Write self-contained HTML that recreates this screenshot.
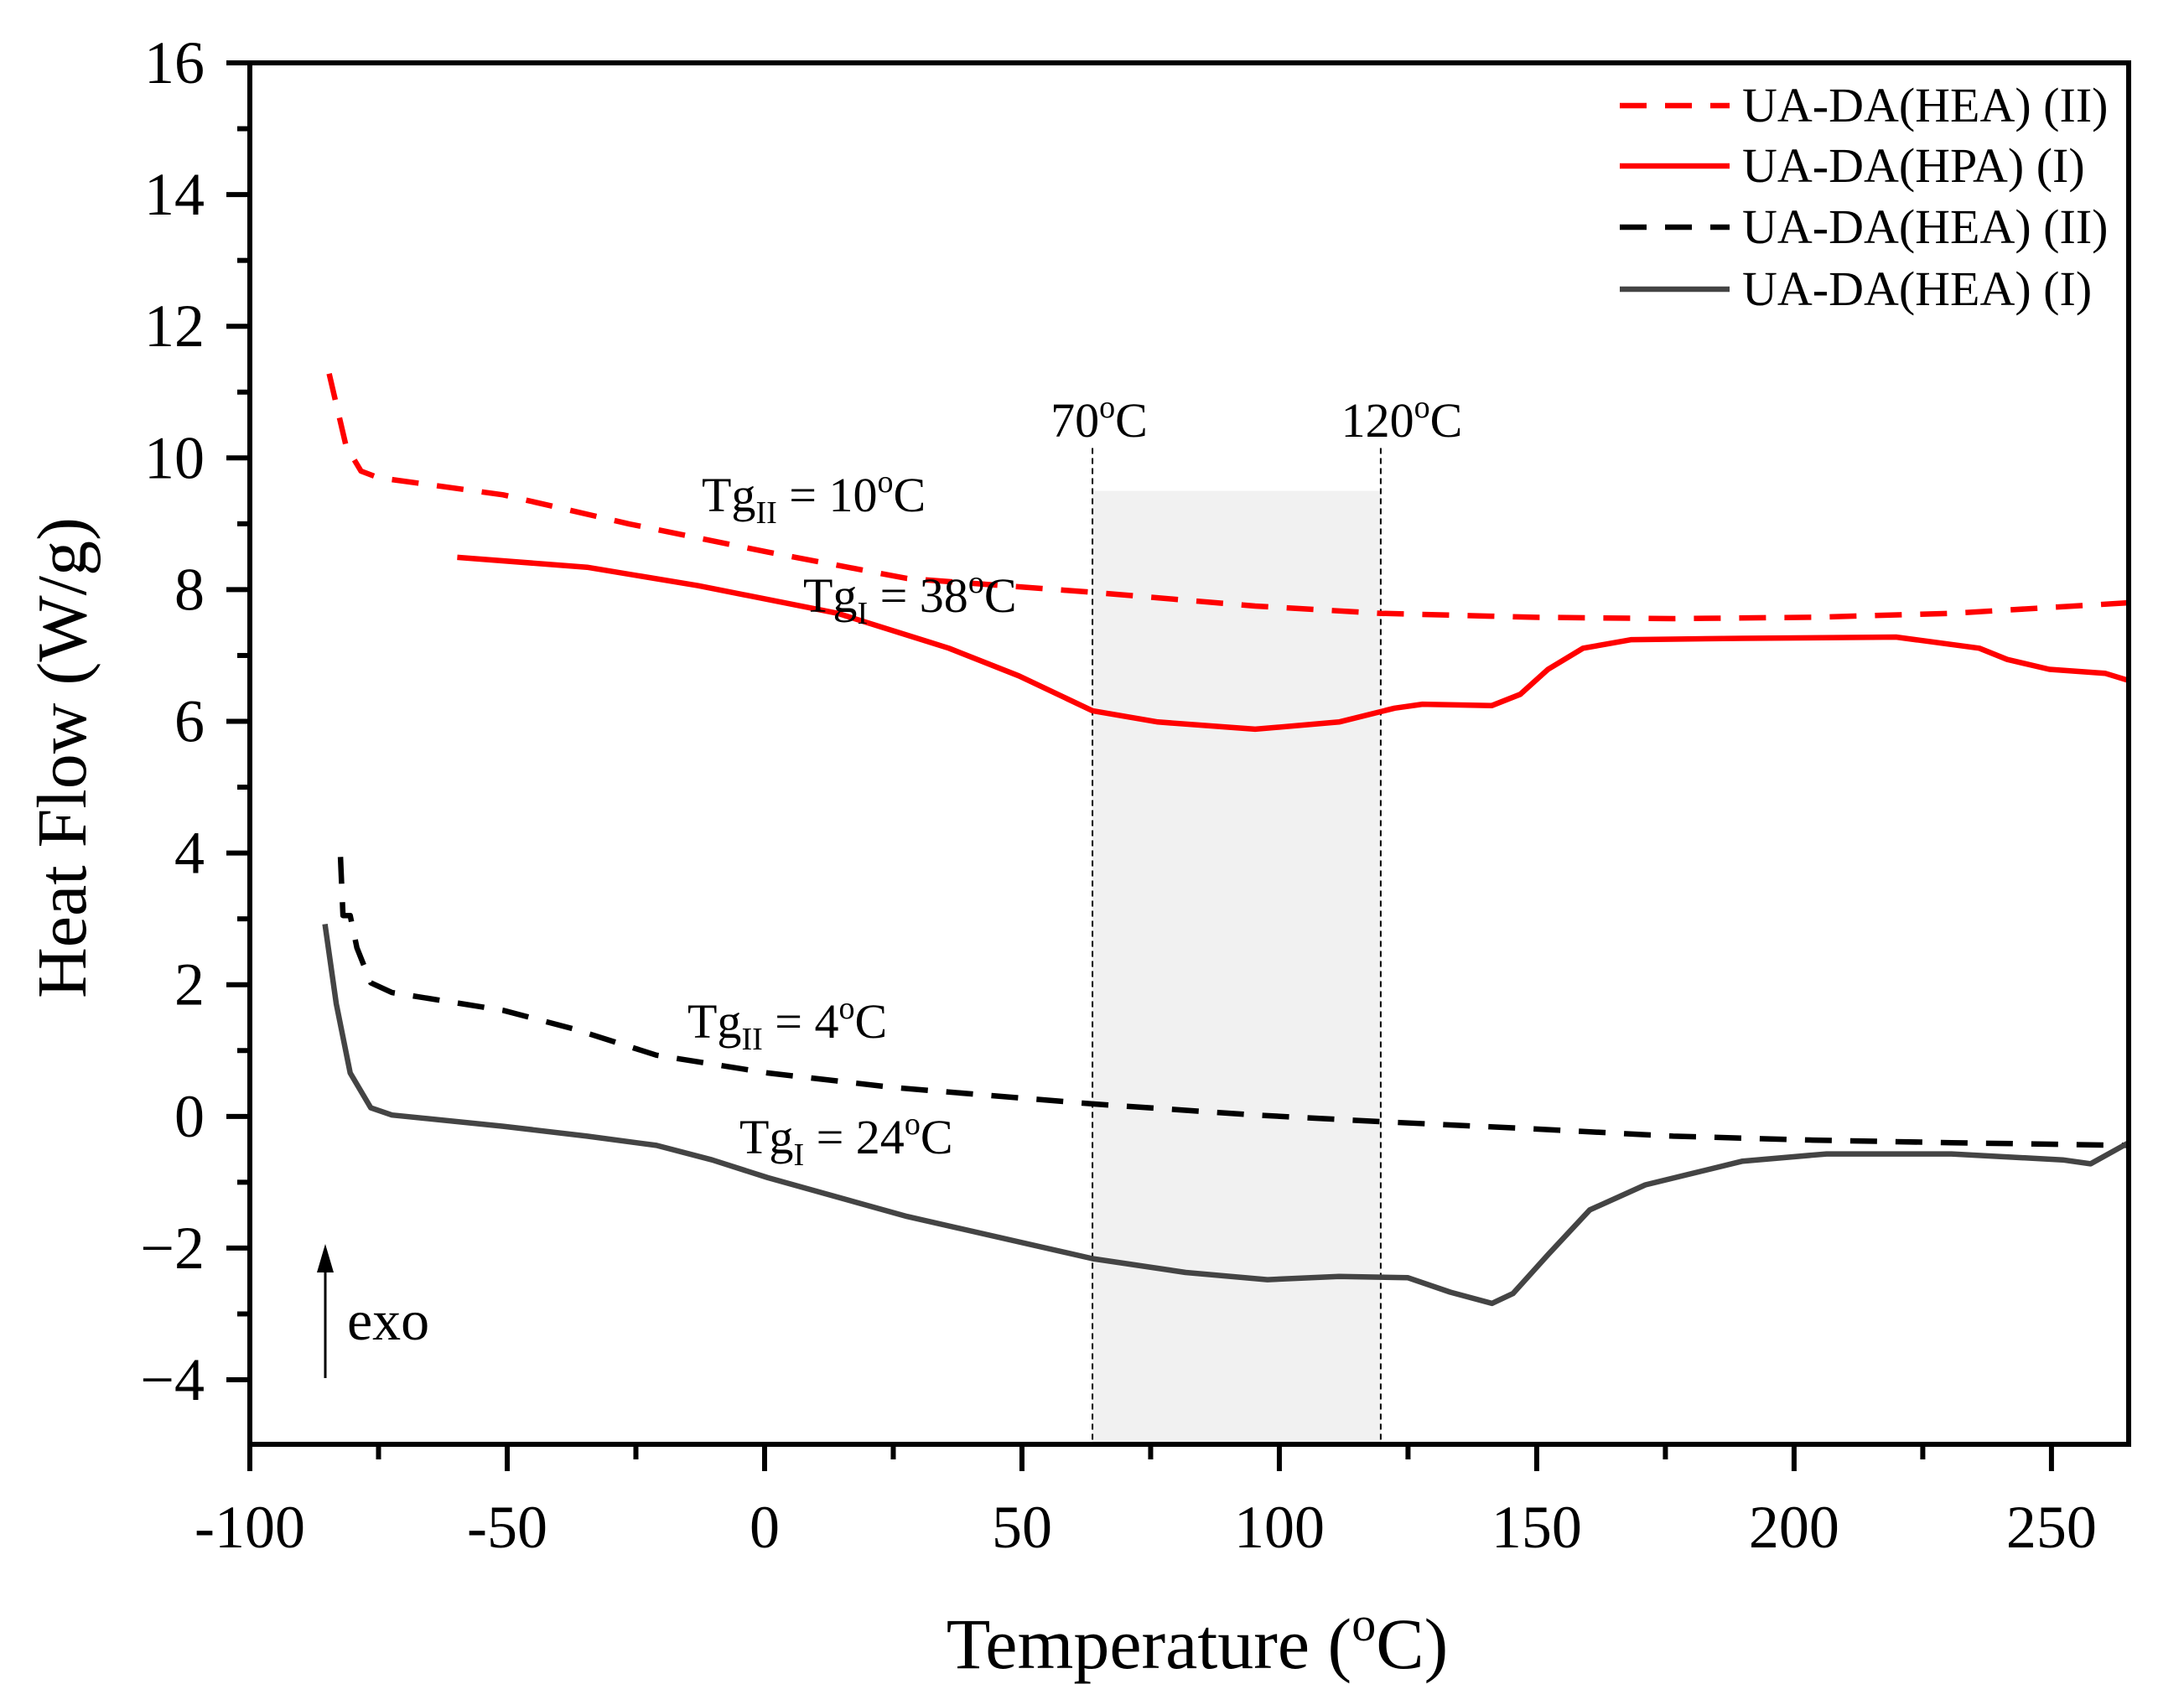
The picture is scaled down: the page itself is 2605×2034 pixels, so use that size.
<!DOCTYPE html>
<html><head><meta charset="utf-8"><style>
html,body{margin:0;padding:0;background:#fff}
svg{display:block;font-family:"Liberation Serif",serif}
</style></head><body>
<svg id="chart" width="2605" height="2034" viewBox="0 0 2605 2034" xmlns="http://www.w3.org/2000/svg"></svg>
<script>
const xTicks=[-100,-50,0,50,100,150,200,250];
const yTicks=[-4,-2,0,2,4,6,8,10,12,14,16];
const redDashX=[-84.6,-81.3,-78.4,-75,-50.8,-26.4,0.6,27.7,63.7,95.3,119.7,149.5,176.5,203.6,230.6,265];
const redDashY=[11.28,10.18,9.8,9.7,9.44,9.0,8.57,8.17,7.96,7.75,7.64,7.58,7.56,7.58,7.64,7.8];
const redSolidX=[-59.7,-34.5,-12.9,14.2,35.8,49.4,63.7,76.4,95.3,111.6,122.4,127.8,141.3,146.8,152.2,159,168.4,190,219.8,236,241.4,249.6,260.4,265];
const redSolidY=[8.49,8.34,8.06,7.64,7.11,6.69,6.16,5.99,5.88,5.99,6.2,6.26,6.24,6.41,6.79,7.11,7.24,7.26,7.28,7.11,6.94,6.79,6.73,6.62];
const blackDashX=[-82.4,-81.9,-80.5,-79.2,-76.5,-72.4,-50.8,-37.2,-21,0.6,25,63.7,95.3,119.7,149.5,176.5,203.6,230.6,265];
const blackDashY=[3.94,3.05,3.05,2.56,2.03,1.88,1.61,1.33,0.93,0.66,0.44,0.19,0.02,-0.08,-0.19,-0.3,-0.36,-0.4,-0.44];
const greyX=[-85.4,-83.2,-80.5,-76.5,-72.4,-50.8,-34.5,-21,-10.2,0.6,27.7,63.7,81.8,97.7,111.6,125,133.2,141.3,145.4,152.2,160.3,171.1,190,206.3,230.6,252.2,257.6,265];
const greyY=[2.92,1.71,0.66,0.13,0.02,-0.15,-0.3,-0.44,-0.66,-0.93,-1.52,-2.16,-2.37,-2.48,-2.43,-2.45,-2.67,-2.84,-2.69,-2.1,-1.42,-1.04,-0.68,-0.57,-0.57,-0.66,-0.72,-0.4];
const legendLabels=["UA-DA(HEA) (II)","UA-DA(HPA) (I)","UA-DA(HEA) (II)","UA-DA(HEA) (I)"];
const shadeRange=[63.7,119.7];
const shadeTop=9.5;

const L=298,R=2539,T=75,B=1723,XMIN=-100,XMAX=265,YMIN=-4.98,YMAX=16;
const sx=v=>L+(v-XMIN)/(XMAX-XMIN)*(R-L);
const sy=v=>B-(v-YMIN)/(YMAX-YMIN)*(B-T);
const svg=document.getElementById('chart');
const NS='http://www.w3.org/2000/svg';
function mk(tag,attrs,parent){const e=document.createElementNS(NS,tag);for(const k in attrs)e.setAttribute(k,attrs[k]);(parent||svg).appendChild(e);return e;}

const sh=mk('rect',{x:sx(shadeRange[0]),y:sy(shadeTop),width:sx(shadeRange[1])-sx(shadeRange[0]),height:B-sy(shadeTop),fill:'#f1f1f1'});


shadeRange.forEach((v,i)=>{
  const l=mk('line',{x1:sx(v),x2:sx(v),y1:sy(10.15),y2:B,stroke:'#000','stroke-width':2,'stroke-dasharray':'7,5'});
  
  
});

function series(xs,ys,color,dash,name){
  const d=xs.map((x,i)=>(i?'L':'M')+sx(x).toFixed(1)+','+sy(ys[i]).toFixed(1)).join(' ');
  const p=mk('path',{d:d,fill:'none',stroke:color,'stroke-width':6.5,'stroke-linejoin':'round','stroke-dasharray':dash||'none'});
  
  
}
series(redDashX,redDashY,'#ff0000','32,22','series-hea-ii-red');
series(redSolidX,redSolidY,'#ff0000',null,'series-hpa-i');
series(blackDashX,blackDashY,'#000','32,22','series-hea-ii-black');
series(greyX,greyY,'#444',null,'series-hea-i');

const fr=mk('path',{d:`M${L},${T} H${R} V${B} H${L} Z`,fill:'none',stroke:'#000','stroke-width':6});



xTicks.forEach(v=>{
  const x=sx(v);
  const t=mk('line',{x1:x,x2:x,y1:B,y2:B+32,stroke:'#000','stroke-width':6});
  
  
  if(v+25<XMAX){const m=mk('line',{x1:sx(v+25),x2:sx(v+25),y1:B,y2:B+18,stroke:'#000','stroke-width':6});
  
  }
  const tx=mk('text',{x:x,y:1846,'font-size':72,'text-anchor':'middle'});
  tx.textContent=String(v);
  
  
});
yTicks.forEach(v=>{
  const y=sy(v);
  const t=mk('line',{x1:L-28,x2:L,y1:y,y2:y,stroke:'#000','stroke-width':6});
  
  
  if(v<YMAX){const m=mk('line',{x1:L-15,x2:L,y1:sy(v+1),y2:sy(v+1),stroke:'#000','stroke-width':6});
  
  }
  const tx=mk('text',{x:244,y:y+24,'font-size':72,'text-anchor':'end'});
  tx.textContent=(v<0?'\u2212':'')+Math.abs(v);
  
  
});

const lc=[['#ff0000','32,22'],['#ff0000',null],['#000','32,22'],['#444',null]];
const ly=[126,198,271,345];
legendLabels.forEach((s,i)=>{
  const l=mk('line',{x1:1932,x2:2063,y1:ly[i],y2:ly[i],stroke:lc[i][0],'stroke-width':6.5,'stroke-dasharray':lc[i][1]||'none'});
  
  
  const t=mk('text',{x:2078,y:ly[i]+19,'font-size':58});
  t.textContent=s;
  
  
});
</script>
<svg style="position:absolute;left:0;top:0" width="2605" height="2034" viewBox="0 0 2605 2034" font-family="Liberation Serif, serif">
<text x="1311" y="521" font-size="58" text-anchor="middle">70<tspan dy="-23" font-size="38">o</tspan><tspan dy="23">C</tspan></text>
<text x="1672" y="521" font-size="58" text-anchor="middle">120<tspan dy="-23" font-size="38">o</tspan><tspan dy="23">C</tspan></text>
<text x="837" y="610" font-size="58">Tg<tspan dy="14" font-size="38">II</tspan><tspan dy="-14"> = 10</tspan><tspan dy="-23" font-size="38">o</tspan><tspan dy="23">C</tspan></text>
<text x="958" y="730" font-size="58">Tg<tspan dy="14" font-size="38">I</tspan><tspan dy="-14"> = 38</tspan><tspan dy="-23" font-size="38">o</tspan><tspan dy="23">C</tspan></text>
<text x="820" y="1238" font-size="58">Tg<tspan dy="14" font-size="38">II</tspan><tspan dy="-14"> = 4</tspan><tspan dy="-23" font-size="38">o</tspan><tspan dy="23">C</tspan></text>
<text x="882" y="1376" font-size="58">Tg<tspan dy="14" font-size="38">I</tspan><tspan dy="-14"> = 24</tspan><tspan dy="-23" font-size="38">o</tspan><tspan dy="23">C</tspan></text>
<line x1="388" y1="1644" x2="388" y2="1510" stroke="#000" stroke-width="3"/>
<polygon points="388,1484 378,1518 398,1518" fill="#000"/>
<text x="414" y="1598" font-size="68">exo</text>
<text x="1428" y="1990" font-size="86" text-anchor="middle">Temperature (<tspan dy="-33" font-size="58">o</tspan><tspan dy="33">C)</tspan></text>
<text transform="translate(102,904) rotate(-90)" font-size="84" text-anchor="middle">Heat Flow (W/g)</text>
</svg>
</body></html>
